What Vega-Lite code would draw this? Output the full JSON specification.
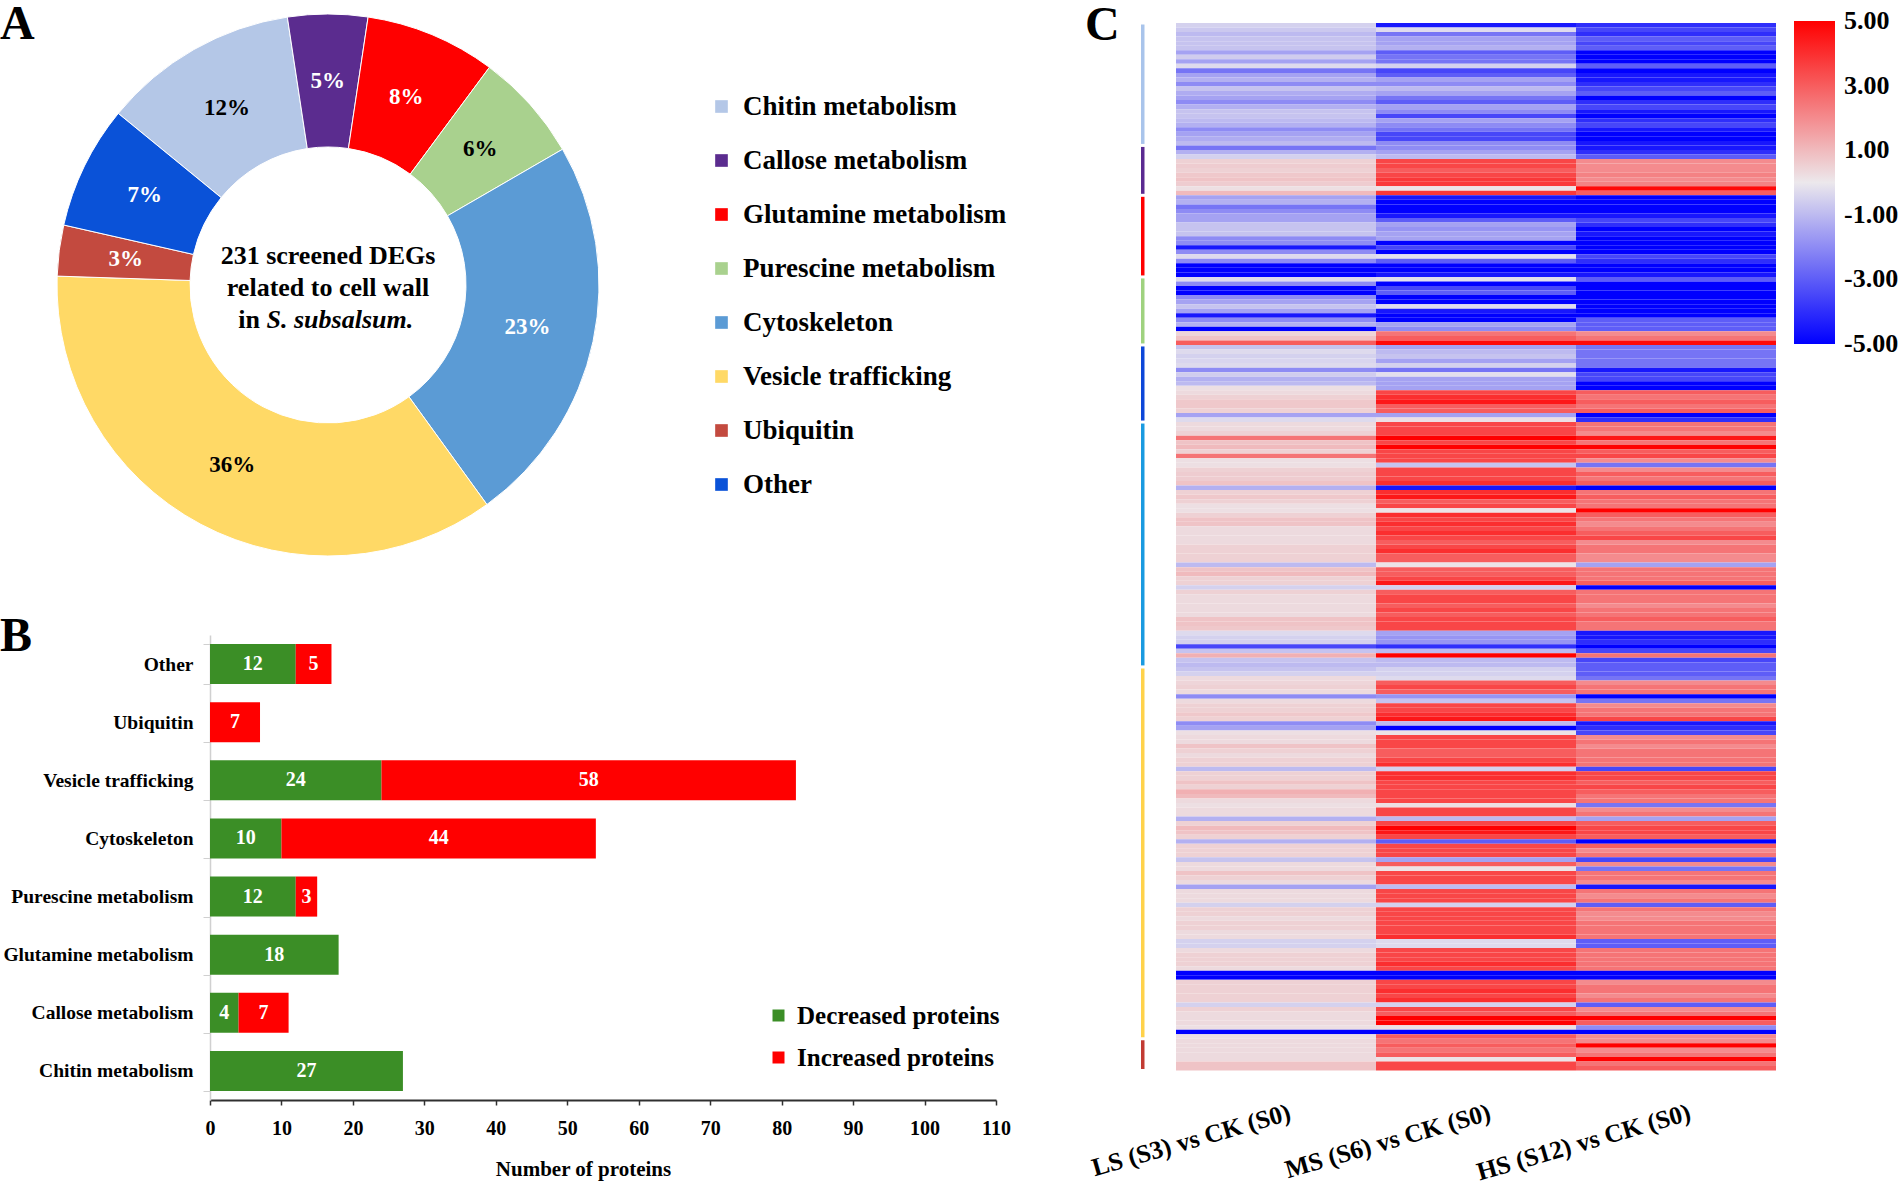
{
"$schema": "https://vega.github.io/schema/vega-lite/v6.json",
"background": "white",
"padding": 0,
"config": {"view": {"stroke": null}, "font": "Liberation Serif", "text": {"font": "Liberation Serif"}},
"datasets": {
"donut": [
{"g":"Chitin metabolism","n":27,"o":1,"p":"12%"},
{"g":"Callose metabolism","n":11,"o":2,"p":"5%"},
{"g":"Glutamine metabolism","n":18,"o":3,"p":"8%"},
{"g":"Purescine metabolism","n":15,"o":4,"p":"6%"},
{"g":"Cytoskeleton","n":54,"o":5,"p":"23%"},
{"g":"Vesicle trafficking","n":82,"o":6,"p":"36%"},
{"g":"Ubiquitin","n":7,"o":7,"p":"3%"},
{"g":"Other","n":17,"o":8,"p":"7%"}],
"bars": [
{"cat":"Other","type":"Decreased proteins","n":12},{"cat":"Other","type":"Increased proteins","n":5},
{"cat":"Ubiquitin","type":"Increased proteins","n":7},
{"cat":"Vesicle trafficking","type":"Decreased proteins","n":24},{"cat":"Vesicle trafficking","type":"Increased proteins","n":58},
{"cat":"Cytoskeleton","type":"Decreased proteins","n":10},{"cat":"Cytoskeleton","type":"Increased proteins","n":44},
{"cat":"Purescine metabolism","type":"Decreased proteins","n":12},{"cat":"Purescine metabolism","type":"Increased proteins","n":3},
{"cat":"Glutamine metabolism","type":"Decreased proteins","n":18},
{"cat":"Callose metabolism","type":"Decreased proteins","n":4},{"cat":"Callose metabolism","type":"Increased proteins","n":7},
{"cat":"Chitin metabolism","type":"Decreased proteins","n":27}],
"strip": [
{"sg":"Chitin metabolism","s":0,"e":27},{"sg":"Callose metabolism","s":27,"e":38},{"sg":"Glutamine metabolism","s":38,"e":56},{"sg":"Purescine metabolism","s":56,"e":71},{"sg":"Other","s":71,"e":88},{"sg":"Cytoskeleton","s":88,"e":142},{"sg":"Vesicle trafficking","s":142,"e":224},{"sg":"Ubiquitin","s":224,"e":231}],
"heat": [
{"r":1,"c":"L","v":-0.5},{"r":1,"c":"M","v":-4.5},{"r":1,"c":"H","v":-4},
{"r":2,"c":"L","v":-0.7},{"r":2,"c":"M","v":-0.3},{"r":2,"c":"H","v":-3.5},
{"r":3,"c":"L","v":-1},{"r":3,"c":"M","v":-2.5},{"r":3,"c":"H","v":-4},
{"r":4,"c":"L","v":-0.8},{"r":4,"c":"M","v":-1.5},{"r":4,"c":"H","v":-3},
{"r":5,"c":"L","v":-0.8},{"r":5,"c":"M","v":-1.5},{"r":5,"c":"H","v":-3.5},
{"r":6,"c":"L","v":-0.8},{"r":6,"c":"M","v":-1.2},{"r":6,"c":"H","v":-3},
{"r":7,"c":"L","v":-1.5},{"r":7,"c":"M","v":-3},{"r":7,"c":"H","v":-5},
{"r":8,"c":"L","v":-0.6},{"r":8,"c":"M","v":-2.5},{"r":8,"c":"H","v":-5},
{"r":9,"c":"L","v":-1.5},{"r":9,"c":"M","v":-2.5},{"r":9,"c":"H","v":-5},
{"r":10,"c":"L","v":-0.3},{"r":10,"c":"M","v":-0.5},{"r":10,"c":"H","v":-3},
{"r":11,"c":"L","v":-2.5},{"r":11,"c":"M","v":-3.5},{"r":11,"c":"H","v":-5},
{"r":12,"c":"L","v":-1.5},{"r":12,"c":"M","v":-3},{"r":12,"c":"H","v":-4.5},
{"r":13,"c":"L","v":-1.2},{"r":13,"c":"M","v":-1.5},{"r":13,"c":"H","v":-4.5},
{"r":14,"c":"L","v":-2},{"r":14,"c":"M","v":-2},{"r":14,"c":"H","v":-4},
{"r":15,"c":"L","v":-0.8},{"r":15,"c":"M","v":-1},{"r":15,"c":"H","v":-3.5},
{"r":16,"c":"L","v":-1.3},{"r":16,"c":"M","v":-1.5},{"r":16,"c":"H","v":-3},
{"r":17,"c":"L","v":-1.5},{"r":17,"c":"M","v":-2.5},{"r":17,"c":"H","v":-5},
{"r":18,"c":"L","v":-2},{"r":18,"c":"M","v":-3},{"r":18,"c":"H","v":-4},
{"r":19,"c":"L","v":-1.2},{"r":19,"c":"M","v":-1.5},{"r":19,"c":"H","v":-3.5},
{"r":20,"c":"L","v":-0.8},{"r":20,"c":"M","v":-2},{"r":20,"c":"H","v":-4.5},
{"r":21,"c":"L","v":-0.8},{"r":21,"c":"M","v":-3.5},{"r":21,"c":"H","v":-5},
{"r":22,"c":"L","v":-1},{"r":22,"c":"M","v":-1.5},{"r":22,"c":"H","v":-4},
{"r":23,"c":"L","v":-1.2},{"r":23,"c":"M","v":-2},{"r":23,"c":"H","v":-3.5},
{"r":24,"c":"L","v":-2},{"r":24,"c":"M","v":-2.5},{"r":24,"c":"H","v":-4.5},
{"r":25,"c":"L","v":-1.5},{"r":25,"c":"M","v":-3.5},{"r":25,"c":"H","v":-5},
{"r":26,"c":"L","v":-1.3},{"r":26,"c":"M","v":-3.5},{"r":26,"c":"H","v":-5},
{"r":27,"c":"L","v":-1},{"r":27,"c":"M","v":-2},{"r":27,"c":"H","v":-4.5},
{"r":28,"c":"L","v":-2.5},{"r":28,"c":"M","v":-2},{"r":28,"c":"H","v":-4.5},
{"r":29,"c":"L","v":-1.2},{"r":29,"c":"M","v":-1.5},{"r":29,"c":"H","v":-4},
{"r":30,"c":"L","v":-0.5},{"r":30,"c":"M","v":-1},{"r":30,"c":"H","v":-3},
{"r":31,"c":"L","v":0.5},{"r":31,"c":"M","v":3.5},{"r":31,"c":"H","v":2},
{"r":32,"c":"L","v":0.6},{"r":32,"c":"M","v":3.5},{"r":32,"c":"H","v":2},
{"r":33,"c":"L","v":0.5},{"r":33,"c":"M","v":3},{"r":33,"c":"H","v":2},
{"r":34,"c":"L","v":0.7},{"r":34,"c":"M","v":3.5},{"r":34,"c":"H","v":2.2},
{"r":35,"c":"L","v":0.8},{"r":35,"c":"M","v":3.8},{"r":35,"c":"H","v":2},
{"r":36,"c":"L","v":0.6},{"r":36,"c":"M","v":3.8},{"r":36,"c":"H","v":2.2},
{"r":37,"c":"L","v":0.2},{"r":37,"c":"M","v":0.1},{"r":37,"c":"H","v":4.8},
{"r":38,"c":"L","v":1},{"r":38,"c":"M","v":3.8},{"r":38,"c":"H","v":3},
{"r":39,"c":"L","v":-1.5},{"r":39,"c":"M","v":-4.5},{"r":39,"c":"H","v":-5},
{"r":40,"c":"L","v":-1.2},{"r":40,"c":"M","v":-5},{"r":40,"c":"H","v":-5},
{"r":41,"c":"L","v":-2.5},{"r":41,"c":"M","v":-5},{"r":41,"c":"H","v":-5},
{"r":42,"c":"L","v":-2},{"r":42,"c":"M","v":-5},{"r":42,"c":"H","v":-5},
{"r":43,"c":"L","v":-1.5},{"r":43,"c":"M","v":-4.5},{"r":43,"c":"H","v":-4.5},
{"r":44,"c":"L","v":-1.5},{"r":44,"c":"M","v":-3},{"r":44,"c":"H","v":-3.5},
{"r":45,"c":"L","v":-0.8},{"r":45,"c":"M","v":-1.5},{"r":45,"c":"H","v":-4},
{"r":46,"c":"L","v":-0.8},{"r":46,"c":"M","v":-1.8},{"r":46,"c":"H","v":-5},
{"r":47,"c":"L","v":-0.8},{"r":47,"c":"M","v":-1.5},{"r":47,"c":"H","v":-4.5},
{"r":48,"c":"L","v":-2},{"r":48,"c":"M","v":-1.5},{"r":48,"c":"H","v":-5},
{"r":49,"c":"L","v":-2},{"r":49,"c":"M","v":-5},{"r":49,"c":"H","v":-5},
{"r":50,"c":"L","v":-4.5},{"r":50,"c":"M","v":-3.5},{"r":50,"c":"H","v":-5},
{"r":51,"c":"L","v":-2},{"r":51,"c":"M","v":-5},{"r":51,"c":"H","v":-5},
{"r":52,"c":"L","v":-0.3},{"r":52,"c":"M","v":-0.2},{"r":52,"c":"H","v":-3.5},
{"r":53,"c":"L","v":-2},{"r":53,"c":"M","v":-3},{"r":53,"c":"H","v":-4},
{"r":54,"c":"L","v":-5},{"r":54,"c":"M","v":-5},{"r":54,"c":"H","v":-5},
{"r":55,"c":"L","v":-5},{"r":55,"c":"M","v":-5},{"r":55,"c":"H","v":-5},
{"r":56,"c":"L","v":-5},{"r":56,"c":"M","v":-4.5},{"r":56,"c":"H","v":-4.5},
{"r":57,"c":"L","v":-0.3},{"r":57,"c":"M","v":-0.2},{"r":57,"c":"H","v":-3},
{"r":58,"c":"L","v":-2},{"r":58,"c":"M","v":-5},{"r":58,"c":"H","v":-5},
{"r":59,"c":"L","v":-5},{"r":59,"c":"M","v":-3.5},{"r":59,"c":"H","v":-5},
{"r":60,"c":"L","v":-5},{"r":60,"c":"M","v":-3},{"r":60,"c":"H","v":-5},
{"r":61,"c":"L","v":-2},{"r":61,"c":"M","v":-5},{"r":61,"c":"H","v":-5},
{"r":62,"c":"L","v":-1.5},{"r":62,"c":"M","v":-5},{"r":62,"c":"H","v":-5},
{"r":63,"c":"L","v":-0.8},{"r":63,"c":"M","v":-0.3},{"r":63,"c":"H","v":-5},
{"r":64,"c":"L","v":-1.5},{"r":64,"c":"M","v":-4.5},{"r":64,"c":"H","v":-5},
{"r":65,"c":"L","v":-4.5},{"r":65,"c":"M","v":-5},{"r":65,"c":"H","v":-5},
{"r":66,"c":"L","v":-2},{"r":66,"c":"M","v":-5},{"r":66,"c":"H","v":-3},
{"r":67,"c":"L","v":-1.2},{"r":67,"c":"M","v":-1.5},{"r":67,"c":"H","v":-3},
{"r":68,"c":"L","v":-5},{"r":68,"c":"M","v":-2},{"r":68,"c":"H","v":-3},
{"r":69,"c":"L","v":0.4},{"r":69,"c":"M","v":2.5},{"r":69,"c":"H","v":2},
{"r":70,"c":"L","v":0.8},{"r":70,"c":"M","v":3},{"r":70,"c":"H","v":2.5},
{"r":71,"c":"L","v":3},{"r":71,"c":"M","v":4.8},{"r":71,"c":"H","v":4.8},
{"r":72,"c":"L","v":-0.8},{"r":72,"c":"M","v":-1.5},{"r":72,"c":"H","v":-2.5},
{"r":73,"c":"L","v":-0.3},{"r":73,"c":"M","v":-1},{"r":73,"c":"H","v":-2.5},
{"r":74,"c":"L","v":-0.5},{"r":74,"c":"M","v":-0.8},{"r":74,"c":"H","v":-2.5},
{"r":75,"c":"L","v":-0.4},{"r":75,"c":"M","v":-1.5},{"r":75,"c":"H","v":-2.5},
{"r":76,"c":"L","v":-0.3},{"r":76,"c":"M","v":-0.5},{"r":76,"c":"H","v":-2.5},
{"r":77,"c":"L","v":-2},{"r":77,"c":"M","v":-2.5},{"r":77,"c":"H","v":-4.5},
{"r":78,"c":"L","v":-0.6},{"r":78,"c":"M","v":-0.2},{"r":78,"c":"H","v":-3.5},
{"r":79,"c":"L","v":-1.2},{"r":79,"c":"M","v":-1.5},{"r":79,"c":"H","v":-3.5},
{"r":80,"c":"L","v":-1},{"r":80,"c":"M","v":-1.5},{"r":80,"c":"H","v":-5},
{"r":81,"c":"L","v":0.2},{"r":81,"c":"M","v":-1.5},{"r":81,"c":"H","v":-5},
{"r":82,"c":"L","v":0.3},{"r":82,"c":"M","v":3.5},{"r":82,"c":"H","v":3},
{"r":83,"c":"L","v":0.5},{"r":83,"c":"M","v":4},{"r":83,"c":"H","v":2.5},
{"r":84,"c":"L","v":0.7},{"r":84,"c":"M","v":4.5},{"r":84,"c":"H","v":3},
{"r":85,"c":"L","v":0.7},{"r":85,"c":"M","v":3},{"r":85,"c":"H","v":2.5},
{"r":86,"c":"L","v":0.5},{"r":86,"c":"M","v":3},{"r":86,"c":"H","v":3},
{"r":87,"c":"L","v":-1.5},{"r":87,"c":"M","v":-1.5},{"r":87,"c":"H","v":-5},
{"r":88,"c":"L","v":-0.3},{"r":88,"c":"M","v":0.2},{"r":88,"c":"H","v":-4},
{"r":89,"c":"L","v":0.3},{"r":89,"c":"M","v":3.5},{"r":89,"c":"H","v":2.5},
{"r":90,"c":"L","v":0.3},{"r":90,"c":"M","v":3.5},{"r":90,"c":"H","v":2.5},
{"r":91,"c":"L","v":0.5},{"r":91,"c":"M","v":3.5},{"r":91,"c":"H","v":2},
{"r":92,"c":"L","v":2.5},{"r":92,"c":"M","v":5},{"r":92,"c":"H","v":4.5},
{"r":93,"c":"L","v":0.8},{"r":93,"c":"M","v":3.5},{"r":93,"c":"H","v":2.5},
{"r":94,"c":"L","v":1},{"r":94,"c":"M","v":5},{"r":94,"c":"H","v":5},
{"r":95,"c":"L","v":0.5},{"r":95,"c":"M","v":3.5},{"r":95,"c":"H","v":3},
{"r":96,"c":"L","v":2.5},{"r":96,"c":"M","v":3.5},{"r":96,"c":"H","v":3.5},
{"r":97,"c":"L","v":0.2},{"r":97,"c":"M","v":3.5},{"r":97,"c":"H","v":2},
{"r":98,"c":"L","v":0.2},{"r":98,"c":"M","v":-0.8},{"r":98,"c":"H","v":-2.5},
{"r":99,"c":"L","v":0.5},{"r":99,"c":"M","v":3.5},{"r":99,"c":"H","v":2},
{"r":100,"c":"L","v":0.6},{"r":100,"c":"M","v":3.5},{"r":100,"c":"H","v":3},
{"r":101,"c":"L","v":0.6},{"r":101,"c":"M","v":3.5},{"r":101,"c":"H","v":2.5},
{"r":102,"c":"L","v":0.8},{"r":102,"c":"M","v":4},{"r":102,"c":"H","v":3},
{"r":103,"c":"L","v":-1.2},{"r":103,"c":"M","v":-4.5},{"r":103,"c":"H","v":-5},
{"r":104,"c":"L","v":0.5},{"r":104,"c":"M","v":4},{"r":104,"c":"H","v":2.5},
{"r":105,"c":"L","v":0.7},{"r":105,"c":"M","v":4.5},{"r":105,"c":"H","v":3},
{"r":106,"c":"L","v":0.5},{"r":106,"c":"M","v":3},{"r":106,"c":"H","v":2.5},
{"r":107,"c":"L","v":0.2},{"r":107,"c":"M","v":3.5},{"r":107,"c":"H","v":2.5},
{"r":108,"c":"L","v":0.2},{"r":108,"c":"M","v":0.1},{"r":108,"c":"H","v":5},
{"r":109,"c":"L","v":0.5},{"r":109,"c":"M","v":4},{"r":109,"c":"H","v":3},
{"r":110,"c":"L","v":0.8},{"r":110,"c":"M","v":3.5},{"r":110,"c":"H","v":2.5},
{"r":111,"c":"L","v":0.8},{"r":111,"c":"M","v":4},{"r":111,"c":"H","v":2},
{"r":112,"c":"L","v":0.3},{"r":112,"c":"M","v":3.5},{"r":112,"c":"H","v":2.5},
{"r":113,"c":"L","v":0.3},{"r":113,"c":"M","v":4},{"r":113,"c":"H","v":3},
{"r":114,"c":"L","v":0.3},{"r":114,"c":"M","v":3.5},{"r":114,"c":"H","v":3.5},
{"r":115,"c":"L","v":0.3},{"r":115,"c":"M","v":3},{"r":115,"c":"H","v":2},
{"r":116,"c":"L","v":0.5},{"r":116,"c":"M","v":3.5},{"r":116,"c":"H","v":2.5},
{"r":117,"c":"L","v":0.5},{"r":117,"c":"M","v":4},{"r":117,"c":"H","v":2.5},
{"r":118,"c":"L","v":0.5},{"r":118,"c":"M","v":3},{"r":118,"c":"H","v":2},
{"r":119,"c":"L","v":0.5},{"r":119,"c":"M","v":3},{"r":119,"c":"H","v":2},
{"r":120,"c":"L","v":-1},{"r":120,"c":"M","v":0.1},{"r":120,"c":"H","v":-1.5},
{"r":121,"c":"L","v":0.8},{"r":121,"c":"M","v":3},{"r":121,"c":"H","v":2.5},
{"r":122,"c":"L","v":1},{"r":122,"c":"M","v":3},{"r":122,"c":"H","v":2.5},
{"r":123,"c":"L","v":0.5},{"r":123,"c":"M","v":3.5},{"r":123,"c":"H","v":2.5},
{"r":124,"c":"L","v":0.5},{"r":124,"c":"M","v":4.5},{"r":124,"c":"H","v":3},
{"r":125,"c":"L","v":-0.5},{"r":125,"c":"M","v":-0.5},{"r":125,"c":"H","v":-5},
{"r":126,"c":"L","v":0.5},{"r":126,"c":"M","v":3},{"r":126,"c":"H","v":2.5},
{"r":127,"c":"L","v":0.3},{"r":127,"c":"M","v":3.5},{"r":127,"c":"H","v":2.5},
{"r":128,"c":"L","v":0.3},{"r":128,"c":"M","v":3.5},{"r":128,"c":"H","v":2.5},
{"r":129,"c":"L","v":0.3},{"r":129,"c":"M","v":3},{"r":129,"c":"H","v":2},
{"r":130,"c":"L","v":0.3},{"r":130,"c":"M","v":3.5},{"r":130,"c":"H","v":2.5},
{"r":131,"c":"L","v":0.3},{"r":131,"c":"M","v":3},{"r":131,"c":"H","v":2.5},
{"r":132,"c":"L","v":0.8},{"r":132,"c":"M","v":3.5},{"r":132,"c":"H","v":3},
{"r":133,"c":"L","v":0.8},{"r":133,"c":"M","v":3.5},{"r":133,"c":"H","v":2.5},
{"r":134,"c":"L","v":0.7},{"r":134,"c":"M","v":3.5},{"r":134,"c":"H","v":2.5},
{"r":135,"c":"L","v":-0.3},{"r":135,"c":"M","v":-1.5},{"r":135,"c":"H","v":-4.5},
{"r":136,"c":"L","v":-0.5},{"r":136,"c":"M","v":-1.8},{"r":136,"c":"H","v":-4.5},
{"r":137,"c":"L","v":-0.5},{"r":137,"c":"M","v":-1.8},{"r":137,"c":"H","v":-4},
{"r":138,"c":"L","v":-3.5},{"r":138,"c":"M","v":-4},{"r":138,"c":"H","v":-5},
{"r":139,"c":"L","v":-0.8},{"r":139,"c":"M","v":-1},{"r":139,"c":"H","v":-3.5},
{"r":140,"c":"L","v":1.2},{"r":140,"c":"M","v":5},{"r":140,"c":"H","v":2.5},
{"r":141,"c":"L","v":-0.8},{"r":141,"c":"M","v":-1},{"r":141,"c":"H","v":-3.5},
{"r":142,"c":"L","v":-1},{"r":142,"c":"M","v":-1},{"r":142,"c":"H","v":-3},
{"r":143,"c":"L","v":-0.8},{"r":143,"c":"M","v":-0.5},{"r":143,"c":"H","v":-3},
{"r":144,"c":"L","v":-0.5},{"r":144,"c":"M","v":-0.5},{"r":144,"c":"H","v":-3},
{"r":145,"c":"L","v":0.3},{"r":145,"c":"M","v":-0.3},{"r":145,"c":"H","v":-2.5},
{"r":146,"c":"L","v":0.4},{"r":146,"c":"M","v":3},{"r":146,"c":"H","v":2},
{"r":147,"c":"L","v":0.5},{"r":147,"c":"M","v":3.5},{"r":147,"c":"H","v":2.5},
{"r":148,"c":"L","v":0.3},{"r":148,"c":"M","v":3},{"r":148,"c":"H","v":2.5},
{"r":149,"c":"L","v":-2},{"r":149,"c":"M","v":-1.8},{"r":149,"c":"H","v":-5},
{"r":150,"c":"L","v":0.3},{"r":150,"c":"M","v":-0.8},{"r":150,"c":"H","v":-2.5},
{"r":151,"c":"L","v":0.5},{"r":151,"c":"M","v":3.5},{"r":151,"c":"H","v":2},
{"r":152,"c":"L","v":0.5},{"r":152,"c":"M","v":3.5},{"r":152,"c":"H","v":2.5},
{"r":153,"c":"L","v":0.7},{"r":153,"c":"M","v":4},{"r":153,"c":"H","v":2.5},
{"r":154,"c":"L","v":0.5},{"r":154,"c":"M","v":4.5},{"r":154,"c":"H","v":3.5},
{"r":155,"c":"L","v":-2},{"r":155,"c":"M","v":-1},{"r":155,"c":"H","v":-4.5},
{"r":156,"c":"L","v":-1.5},{"r":156,"c":"M","v":-5},{"r":156,"c":"H","v":-4},
{"r":157,"c":"L","v":0.2},{"r":157,"c":"M","v":0.1},{"r":157,"c":"H","v":-3.5},
{"r":158,"c":"L","v":0.3},{"r":158,"c":"M","v":3.5},{"r":158,"c":"H","v":2},
{"r":159,"c":"L","v":0.3},{"r":159,"c":"M","v":3.5},{"r":159,"c":"H","v":2.5},
{"r":160,"c":"L","v":0.8},{"r":160,"c":"M","v":3.5},{"r":160,"c":"H","v":2},
{"r":161,"c":"L","v":0.5},{"r":161,"c":"M","v":3},{"r":161,"c":"H","v":2.5},
{"r":162,"c":"L","v":0.3},{"r":162,"c":"M","v":3},{"r":162,"c":"H","v":2.5},
{"r":163,"c":"L","v":0.5},{"r":163,"c":"M","v":3.5},{"r":163,"c":"H","v":2.5},
{"r":164,"c":"L","v":0.5},{"r":164,"c":"M","v":4},{"r":164,"c":"H","v":2.5},
{"r":165,"c":"L","v":-1},{"r":165,"c":"M","v":-0.5},{"r":165,"c":"H","v":-3.5},
{"r":166,"c":"L","v":0.5},{"r":166,"c":"M","v":4},{"r":166,"c":"H","v":3.5},
{"r":167,"c":"L","v":0.5},{"r":167,"c":"M","v":4},{"r":167,"c":"H","v":3.5},
{"r":168,"c":"L","v":0.8},{"r":168,"c":"M","v":3.5},{"r":168,"c":"H","v":3},
{"r":169,"c":"L","v":0.5},{"r":169,"c":"M","v":3.5},{"r":169,"c":"H","v":3.5},
{"r":170,"c":"L","v":1.2},{"r":170,"c":"M","v":3.5},{"r":170,"c":"H","v":3},
{"r":171,"c":"L","v":1},{"r":171,"c":"M","v":3.5},{"r":171,"c":"H","v":2.5},
{"r":172,"c":"L","v":0.3},{"r":172,"c":"M","v":3.5},{"r":172,"c":"H","v":2.5},
{"r":173,"c":"L","v":0.2},{"r":173,"c":"M","v":0.2},{"r":173,"c":"H","v":-2.5},
{"r":174,"c":"L","v":0.3},{"r":174,"c":"M","v":3.5},{"r":174,"c":"H","v":2},
{"r":175,"c":"L","v":0.3},{"r":175,"c":"M","v":3.5},{"r":175,"c":"H","v":2.5},
{"r":176,"c":"L","v":-1.2},{"r":176,"c":"M","v":-1},{"r":176,"c":"H","v":-1.5},
{"r":177,"c":"L","v":0.5},{"r":177,"c":"M","v":3.5},{"r":177,"c":"H","v":3},
{"r":178,"c":"L","v":1},{"r":178,"c":"M","v":5},{"r":178,"c":"H","v":3.5},
{"r":179,"c":"L","v":0.8},{"r":179,"c":"M","v":4.5},{"r":179,"c":"H","v":3.5},
{"r":180,"c":"L","v":0.5},{"r":180,"c":"M","v":3.5},{"r":180,"c":"H","v":3},
{"r":181,"c":"L","v":-1.2},{"r":181,"c":"M","v":-3},{"r":181,"c":"H","v":-5},
{"r":182,"c":"L","v":0.5},{"r":182,"c":"M","v":3.5},{"r":182,"c":"H","v":3},
{"r":183,"c":"L","v":0.5},{"r":183,"c":"M","v":3.5},{"r":183,"c":"H","v":2},
{"r":184,"c":"L","v":0.5},{"r":184,"c":"M","v":3.5},{"r":184,"c":"H","v":2.5},
{"r":185,"c":"L","v":-0.8},{"r":185,"c":"M","v":-1.5},{"r":185,"c":"H","v":-3.5},
{"r":186,"c":"L","v":0.3},{"r":186,"c":"M","v":3},{"r":186,"c":"H","v":2},
{"r":187,"c":"L","v":0.3},{"r":187,"c":"M","v":0.1},{"r":187,"c":"H","v":-2.5},
{"r":188,"c":"L","v":0.8},{"r":188,"c":"M","v":3.5},{"r":188,"c":"H","v":2.5},
{"r":189,"c":"L","v":0.5},{"r":189,"c":"M","v":3.5},{"r":189,"c":"H","v":2.5},
{"r":190,"c":"L","v":0.3},{"r":190,"c":"M","v":3.5},{"r":190,"c":"H","v":2},
{"r":191,"c":"L","v":-1.5},{"r":191,"c":"M","v":-1},{"r":191,"c":"H","v":-4.5},
{"r":192,"c":"L","v":0.3},{"r":192,"c":"M","v":3.5},{"r":192,"c":"H","v":2.5},
{"r":193,"c":"L","v":0.3},{"r":193,"c":"M","v":3.5},{"r":193,"c":"H","v":2},
{"r":194,"c":"L","v":0.3},{"r":194,"c":"M","v":3.5},{"r":194,"c":"H","v":2.5},
{"r":195,"c":"L","v":-0.5},{"r":195,"c":"M","v":-0.5},{"r":195,"c":"H","v":-3},
{"r":196,"c":"L","v":0.5},{"r":196,"c":"M","v":3.5},{"r":196,"c":"H","v":2.5},
{"r":197,"c":"L","v":0.5},{"r":197,"c":"M","v":3.5},{"r":197,"c":"H","v":2},
{"r":198,"c":"L","v":0.3},{"r":198,"c":"M","v":3.5},{"r":198,"c":"H","v":2},
{"r":199,"c":"L","v":0.5},{"r":199,"c":"M","v":3.5},{"r":199,"c":"H","v":2.5},
{"r":200,"c":"L","v":0.5},{"r":200,"c":"M","v":3.5},{"r":200,"c":"H","v":2.5},
{"r":201,"c":"L","v":0.3},{"r":201,"c":"M","v":3.5},{"r":201,"c":"H","v":2.5},
{"r":202,"c":"L","v":0.3},{"r":202,"c":"M","v":4},{"r":202,"c":"H","v":2.5},
{"r":203,"c":"L","v":-0.5},{"r":203,"c":"M","v":-0.3},{"r":203,"c":"H","v":-3},
{"r":204,"c":"L","v":-0.5},{"r":204,"c":"M","v":-0.3},{"r":204,"c":"H","v":-3},
{"r":205,"c":"L","v":0.3},{"r":205,"c":"M","v":3.5},{"r":205,"c":"H","v":2.5},
{"r":206,"c":"L","v":0.5},{"r":206,"c":"M","v":3.5},{"r":206,"c":"H","v":2.5},
{"r":207,"c":"L","v":0.5},{"r":207,"c":"M","v":3.5},{"r":207,"c":"H","v":2.5},
{"r":208,"c":"L","v":0.5},{"r":208,"c":"M","v":4},{"r":208,"c":"H","v":2.5},
{"r":209,"c":"L","v":0.3},{"r":209,"c":"M","v":3.5},{"r":209,"c":"H","v":2.5},
{"r":210,"c":"L","v":-5},{"r":210,"c":"M","v":-5},{"r":210,"c":"H","v":-5},
{"r":211,"c":"L","v":-5},{"r":211,"c":"M","v":-5},{"r":211,"c":"H","v":-5},
{"r":212,"c":"L","v":0.5},{"r":212,"c":"M","v":3.5},{"r":212,"c":"H","v":2},
{"r":213,"c":"L","v":0.5},{"r":213,"c":"M","v":3.5},{"r":213,"c":"H","v":2.5},
{"r":214,"c":"L","v":0.5},{"r":214,"c":"M","v":4},{"r":214,"c":"H","v":2.5},
{"r":215,"c":"L","v":0.5},{"r":215,"c":"M","v":3.5},{"r":215,"c":"H","v":2},
{"r":216,"c":"L","v":0.5},{"r":216,"c":"M","v":4},{"r":216,"c":"H","v":2.5},
{"r":217,"c":"L","v":-0.5},{"r":217,"c":"M","v":-0.5},{"r":217,"c":"H","v":-3},
{"r":218,"c":"L","v":0.5},{"r":218,"c":"M","v":3.5},{"r":218,"c":"H","v":2},
{"r":219,"c":"L","v":0.3},{"r":219,"c":"M","v":3},{"r":219,"c":"H","v":2.5},
{"r":220,"c":"L","v":0.3},{"r":220,"c":"M","v":5},{"r":220,"c":"H","v":5},
{"r":221,"c":"L","v":0.3},{"r":221,"c":"M","v":5},{"r":221,"c":"H","v":3},
{"r":222,"c":"L","v":0.2},{"r":222,"c":"M","v":0.2},{"r":222,"c":"H","v":-2},
{"r":223,"c":"L","v":-5},{"r":223,"c":"M","v":-5},{"r":223,"c":"H","v":-5},
{"r":224,"c":"L","v":0.2},{"r":224,"c":"M","v":3},{"r":224,"c":"H","v":2},
{"r":225,"c":"L","v":0.3},{"r":225,"c":"M","v":2.5},{"r":225,"c":"H","v":2},
{"r":226,"c":"L","v":0.3},{"r":226,"c":"M","v":3},{"r":226,"c":"H","v":5},
{"r":227,"c":"L","v":0.3},{"r":227,"c":"M","v":2.5},{"r":227,"c":"H","v":2},
{"r":228,"c":"L","v":0.3},{"r":228,"c":"M","v":3},{"r":228,"c":"H","v":2.5},
{"r":229,"c":"L","v":0.3},{"r":229,"c":"M","v":0.1},{"r":229,"c":"H","v":5},
{"r":230,"c":"L","v":0.8},{"r":230,"c":"M","v":3.5},{"r":230,"c":"H","v":2.5},
{"r":231,"c":"L","v":0.8},{"r":231,"c":"M","v":3.5},{"r":231,"c":"H","v":3}
]
},
"spacing": 74,
"resolve": {"scale": {"color": "independent"}, "legend": {"color": "independent"}},
"hconcat": [
{
"vconcat": [
{
"width": 236, "height": 524,
"title": {"text": "A", "anchor": "start", "frame": "group", "orient": "top", "offset": 0, "baseline": "top", "dx": -210, "dy": 36.6, "fontSize": 48, "font": "Liberation Serif", "fontWeight": "bold", "color": "black"},
"data": {"name": "donut"},
"layer": [
{"mark": {"type": "arc", "innerRadius": 138, "outerRadius": 271, "stroke": "white", "strokeWidth": 1},
 "encoding": {
  "theta": {"field": "n", "type": "quantitative", "stack": true, "scale": {"range": [-0.885, 5.398]}},
  "order": {"field": "o", "type": "quantitative"},
  "color": {"field": "g", "type": "nominal",
    "scale": {"domain": ["Chitin metabolism","Callose metabolism","Glutamine metabolism","Purescine metabolism","Cytoskeleton","Vesicle trafficking","Ubiquitin","Other"],
              "range": ["#b4c7e7","#5b2c8f","#ff0000","#a9d18e","#5b9bd5","#ffd966","#c34a3f","#0a52d8"]},
    "legend": {"orient": "none", "legendX": 498, "legendY": 70, "title": null, "symbolType": "square", "symbolSize": 160, "symbolStrokeWidth": 0, "labelFont": "Liberation Serif", "labelFontWeight": "bold", "labelFontSize": 27, "labelColor": "black", "rowPadding": 26, "labelOffset": 8, "labelLimit": 500}}
 }},
{"mark": {"type": "text", "radius": 204, "fontSize": 23, "fontWeight": "bold", "font": "Liberation Serif"},
 "encoding": {
  "theta": {"field": "n", "type": "quantitative", "stack": true},
  "order": {"field": "o", "type": "quantitative"},
  "text": {"field": "p"},
  "color": {"condition": {"test": "datum.g == 'Chitin metabolism' || datum.g == 'Purescine metabolism' || datum.g == 'Vesicle trafficking'", "value": "black"}, "value": "white"}
 }},
{"data": {"values": [{"t": "231 screened DEGs"}]},
 "mark": {"type": "text", "dy": -29, "fontSize": 26, "fontWeight": "bold", "font": "Liberation Serif", "color": "black"},
 "encoding": {"text": {"field": "t"}}},
{"data": {"values": [{"t": "related to cell wall"}]},
 "mark": {"type": "text", "dy": 2.5, "fontSize": 26, "fontWeight": "bold", "font": "Liberation Serif", "color": "black"},
 "encoding": {"text": {"field": "t"}}},
{"data": {"values": [{"t": "in"}]},
 "mark": {"type": "text", "dy": 35, "dx": -68, "align": "right", "fontSize": 26, "fontWeight": "bold", "font": "Liberation Serif", "color": "black"},
 "encoding": {"text": {"field": "t"}}},
{"data": {"values": [{"t": "S. subsalsum."}]},
 "mark": {"type": "text", "dy": 35, "dx": -61.5, "align": "left", "fontSize": 26, "fontWeight": "bold", "fontStyle": "italic", "font": "Liberation Serif", "color": "black"},
 "encoding": {"text": {"field": "t"}}}
]
},
{
"width": 786, "height": 465,
"title": {"text": "B", "anchor": "start", "frame": "group", "orient": "top", "offset": 0, "baseline": "top", "dx": -210, "dy": 36.1, "fontSize": 48, "font": "Liberation Serif", "fontWeight": "bold", "color": "black"},
"data": {"name": "bars"},
"transform": [{"stack": "n", "groupby": ["cat"], "sort": [{"field": "type", "order": "ascending"}], "as": ["x0", "x1"]}],
"encoding": {
 "y": {"field": "cat", "type": "nominal",
   "sort": ["Other","Ubiquitin","Vesicle trafficking","Cytoskeleton","Purescine metabolism","Glutamine metabolism","Callose metabolism","Chitin metabolism"],
   "scale": {"paddingInner": 0.31, "paddingOuter": 0.155},
   "axis": {"title": null, "domainColor": "#d0d0d0", "domainWidth": 1.5, "tickColor": "#d0d0d0", "tickBand": "extent", "tickSize": 7, "labelFont": "Liberation Serif", "labelFontSize": 19.5, "labelFontWeight": "bold", "labelColor": "black", "labelPadding": 10, "labelLimit": 400}}
},
"layer": [
{"mark": {"type": "bar"},
 "encoding": {
  "x": {"field": "x0", "type": "quantitative", "title": "Number of proteins",
    "scale": {"domain": [0, 110], "nice": false},
    "axis": {"values": [0,10,20,30,40,50,60,70,80,90,100,110], "grid": false, "domainColor": "#303030", "domainWidth": 2, "tickColor": "#303030", "tickSize": 5, "tickWidth": 1.5, "labelFont": "Liberation Serif", "labelFontSize": 20, "labelFontWeight": "bold", "labelColor": "black", "labelPadding": 13, "labelFlush": false, "titleFont": "Liberation Serif", "titleFontSize": 21, "titleFontWeight": "bold", "titleColor": "black", "titlePadding": 20, "titleX": 373}},
  "x2": {"field": "x1"},
  "color": {"field": "type", "type": "nominal",
    "scale": {"domain": ["Decreased proteins","Increased proteins"], "range": ["#3b8e26","#ff0000"]},
    "legend": {"orient": "none", "legendX": 556, "legendY": 368, "title": null, "symbolType": "square", "symbolSize": 144, "symbolStrokeWidth": 0, "labelFont": "Liberation Serif", "labelFontWeight": "bold", "labelFontSize": 25, "labelColor": "black", "rowPadding": 16, "labelOffset": 6, "labelLimit": 500}}
 }},
{"transform": [{"fold": ["x0", "x1"], "as": ["k", "xv"]}, {"aggregate": [{"op": "mean", "field": "xv", "as": "mid"}], "groupby": ["cat", "type", "n"]}],
 "mark": {"type": "text", "color": "white", "fontSize": 20, "fontWeight": "bold", "font": "Liberation Serif"},
 "encoding": {
  "x": {"field": "mid", "type": "quantitative", "title": "Number of proteins"},
  "text": {"field": "n"}
 }}
]
}
],
"spacing": 88,
"bounds": "flush",
"resolve": {"scale": {"color": "independent"}, "legend": {"color": "independent"}}
},
{
"hconcat": [
{
"width": 3.5, "height": 1047.5,
"data": {"name": "strip"},
"mark": {"type": "rect", "yOffset": 1.5, "y2Offset": -1.5},
"encoding": {
 "y": {"field": "s", "type": "quantitative", "scale": {"domain": [0, 231], "reverse": true, "nice": false, "zero": false}, "axis": null},
 "y2": {"field": "e"},
 "color": {"field": "sg", "type": "nominal",
   "scale": {"domain": ["Chitin metabolism","Callose metabolism","Glutamine metabolism","Purescine metabolism","Cytoskeleton","Vesicle trafficking","Ubiquitin","Other"],
             "range": ["#a9c4eb","#5b2a91","#ff0000","#9fd27f","#1a9ae0","#ffd24a","#c23b33","#0d47d9"]},
   "legend": null}
}
},
{
"width": 600, "height": 1047.5,
"title": {"text": "C", "anchor": "start", "frame": "group", "orient": "top", "offset": 0, "baseline": "top", "dx": -91, "dy": 29.3, "fontSize": 48, "font": "Liberation Serif", "fontWeight": "bold", "color": "black"},
"data": {"name": "heat"},
"mark": {"type": "rect"},
"encoding": {
 "x": {"field": "c", "type": "nominal", "sort": ["L","M","H"], "scale": {"paddingInner": 0, "paddingOuter": 0},
   "axis": {"title": null, "domain": false, "ticks": false, "labelAngle": -16, "labelAlign": "right", "labelBaseline": "middle", "labelPadding": 41, "labelOffset": 14, "labelFont": "Liberation Serif", "labelFontSize": 25.5, "labelFontWeight": "bold", "labelColor": "black", "labelLimit": 500,
     "labelExpr": "datum.value == 'L' ? 'LS (S3) vs CK (S0)' : datum.value == 'M' ? 'MS (S6) vs CK (S0)' : 'HS (S12) vs CK (S0)'"}},
 "y": {"field": "r", "type": "ordinal", "scale": {"paddingInner": 0, "paddingOuter": 0}, "axis": null},
 "color": {"field": "v", "type": "quantitative",
   "scale": {"domain": [-5.001, 0, 5.001], "range": ["#0000ff", "#ece8ec", "#ff0000"], "interpolate": "rgb"},
   "legend": {"type": "gradient", "orient": "none", "legendX": 618, "legendY": -2, "title": null, "direction": "vertical", "gradientLength": 323, "gradientThickness": 41, "gradientStrokeWidth": 0,
     "values": [5, 3, 1, -1, -3, -5], "labelExpr": "datum.value < 0 ? '-' + format(-datum.value, '.2f') : format(datum.value, '.2f')",
     "labelFont": "Liberation Serif", "labelFontSize": 26, "labelFontWeight": "bold", "labelColor": "black", "labelOffset": 9, "labelOverlap": false}}
}
}
],
"spacing": 31,
"bounds": "flush",
"resolve": {"scale": {"color": "independent"}, "legend": {"color": "independent"}}
}
]
}
